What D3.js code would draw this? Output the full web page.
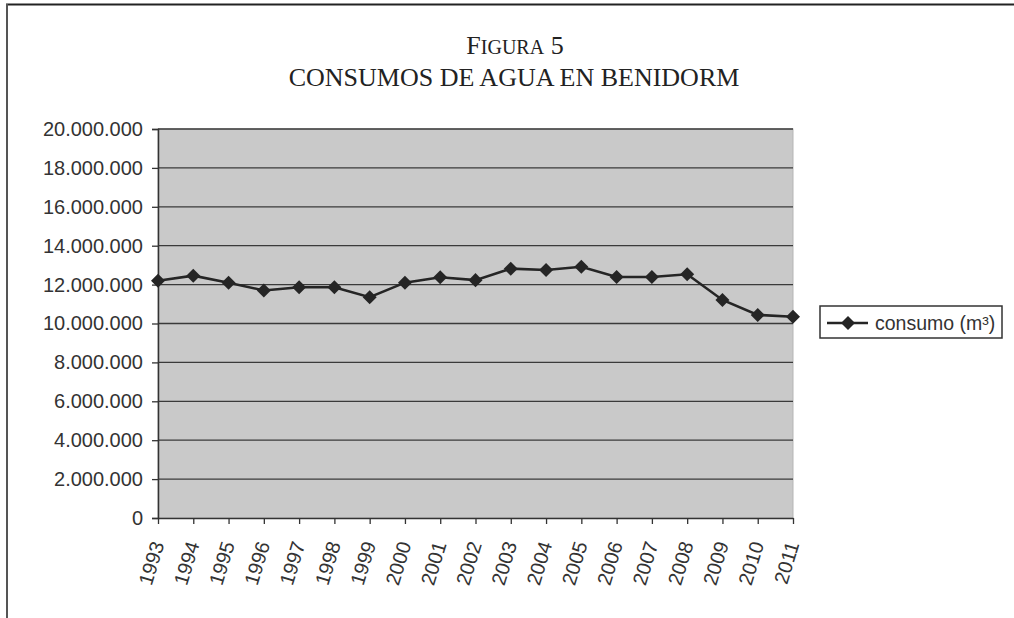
<!DOCTYPE html>
<meta charset="utf-8">
<style>
body { margin: 0; background: #fff; }
text { font-family: "Liberation Sans", Arial, sans-serif; }
</style>
<svg width="1014" height="618"></svg>
<script src="https://d3js.org/d3.v7.min.js"></script>
<script>

var years = ["1993","1994","1995","1996","1997","1998","1999","2000","2001","2002",
             "2003","2004","2005","2006","2007","2008","2009","2010","2011"];
var consumo = [12200000, 12460000, 12100000, 11700000, 11860000, 11860000, 11350000, 12100000,
               12380000, 12230000, 12820000, 12750000, 12920000, 12390000, 12390000, 12530000,
               11210000, 10440000, 10350000];
var yTicks = [0, 2000000, 4000000, 6000000, 8000000, 10000000, 12000000, 14000000,
              16000000, 18000000, 20000000];
var seriesName = "consumo (m³)";

var svg = d3.select("svg");

svg.append("rect").attr("width", 1014).attr("height", 618).attr("fill", "#fff");

// frame lines
svg.append("line").attr("x1", 6).attr("x2", 1014).attr("y1", 4.5).attr("y2", 4.5)
   .attr("stroke", "#222").attr("stroke-width", 2);
svg.append("line").attr("x1", 7).attr("x2", 7).attr("y1", 4).attr("y2", 618)
   .attr("stroke", "#555").attr("stroke-width", 2);

// title
var t1 = svg.append("text").attr("x", 515).attr("y", 54).attr("text-anchor", "middle")
   .style("font-family", "'Liberation Serif', serif").attr("fill", "#222");
t1.append("tspan").attr("font-size", "26px").text("F");
t1.append("tspan").attr("font-size", "20px").text("IGURA");
t1.append("tspan").attr("font-size", "26px").text(" 5");
svg.append("text").attr("x", 514).attr("y", 86).attr("text-anchor", "middle")
   .style("font-family", "'Liberation Serif', serif").attr("font-size", "26px")
   .attr("fill", "#222").text("CONSUMOS DE AGUA EN BENIDORM");

var plotL = 158, plotR = 793, plotT = 129, plotB = 518;

var x = d3.scalePoint().domain(years).range([plotL, plotR]);
var y = d3.scaleLinear().domain([0, 20000000]).range([plotB, plotT]);

// plot area
svg.append("rect").attr("x", plotL).attr("y", plotT)
   .attr("width", plotR - plotL).attr("height", plotB - plotT)
   .attr("fill", "#c9c9c9").attr("stroke", "#b5b5b5").attr("stroke-width", 1);

// gridlines
svg.append("g").selectAll("line").data(yTicks.slice(1)).enter().append("line")
   .attr("x1", plotL).attr("x2", plotR)
   .attr("y1", d => y(d)).attr("y2", d => y(d))
   .attr("stroke", "#3a3a3a").attr("stroke-width", 1.3);

var fmt = function(d) { return d3.format(",")(d).replace(/,/g, "."); };

// y axis
var yAxis = svg.append("g").attr("transform", "translate(" + plotL + ",0)")
   .call(d3.axisLeft(y).tickValues(yTicks).tickSize(6).tickPadding(9).tickFormat(fmt));
yAxis.select(".domain").attr("stroke", "#333").attr("stroke-width", 1.5);
yAxis.selectAll(".tick line").attr("stroke", "#333").attr("stroke-width", 1.3);
yAxis.selectAll("text").attr("font-size", "20px").attr("fill", "#333")
   .style("font-family", "'Liberation Sans', Arial, sans-serif");

// x axis
var xAxis = svg.append("g").attr("transform", "translate(0," + plotB + ")")
   .call(d3.axisBottom(x).tickSize(6).tickSizeOuter(0));
xAxis.select(".domain").attr("stroke", "#333").attr("stroke-width", 1.5);
xAxis.selectAll(".tick line").attr("stroke", "#333").attr("stroke-width", 1.3);
xAxis.selectAll("text")
   .attr("font-size", "20px").attr("fill", "#333")
   .style("font-family", "'Liberation Sans', Arial, sans-serif")
   .attr("text-anchor", "end")
   .attr("dy", null).attr("y", null)
   .attr("transform", "translate(6,26) rotate(-73)");

// line
var line = d3.line().x((d, i) => x(years[i])).y(d => y(d));
svg.append("path").datum(consumo).attr("d", line)
   .attr("fill", "none").attr("stroke", "#252525").attr("stroke-width", 2.6);

var diamond = d3.symbol().type(d3.symbolDiamond2).size(125);
svg.append("g").selectAll("path").data(consumo).enter().append("path")
   .attr("d", diamond)
   .attr("transform", (d, i) => "translate(" + x(years[i]) + "," + y(d) + ")")
   .attr("fill", "#252525");

// legend
var lg = svg.append("g");
lg.append("rect").attr("x", 820).attr("y", 306).attr("width", 182).attr("height", 32)
   .attr("fill", "#fff").attr("stroke", "#333").attr("stroke-width", 1.5);
lg.append("line").attr("x1", 827).attr("x2", 868).attr("y1", 323).attr("y2", 323)
   .attr("stroke", "#252525").attr("stroke-width", 2.6);
lg.append("path").attr("d", diamond).attr("transform", "translate(848,323)")
   .attr("fill", "#252525");
lg.append("text").attr("x", 875).attr("y", 330).attr("font-size", "19.5px")
   .attr("fill", "#333").text(seriesName);

</script>
